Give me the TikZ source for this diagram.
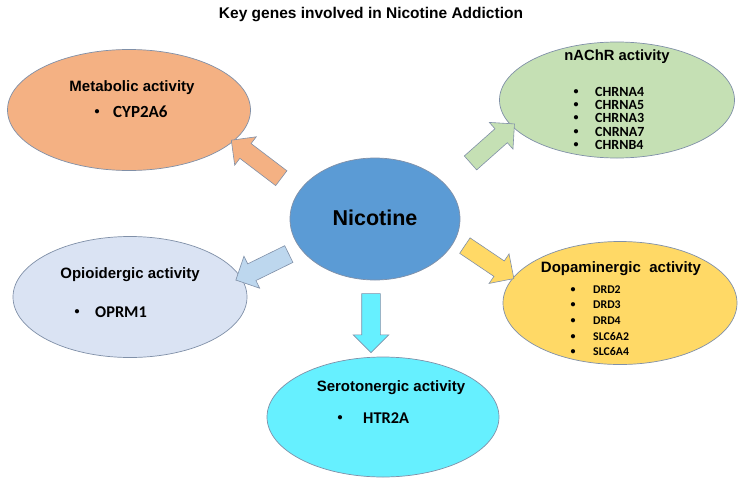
\documentclass[tikz,border=0pt]{standalone}
\usepackage{fontspec}
\setmainfont{Liberation Sans}
\newfontfamily\genefont{Carlito}
\usetikzlibrary{shapes.geometric,shapes.arrows,calc}
\definecolor{metab}{HTML}{F4B183}
\definecolor{nachr}{HTML}{C5E0B4}
\definecolor{nico}{HTML}{5B9BD5}
\definecolor{opio}{HTML}{DAE3F3}
\definecolor{opioarrow}{HTML}{BDD7EE}
\definecolor{dopa}{HTML}{FFD966}
\definecolor{sero}{HTML}{66F0FF}
\definecolor{edgec}{HTML}{8090A8}
\begin{document}
\begin{tikzpicture}[x=1pt,y=-1pt,
  bubble/.style={ellipse,draw=edgec,line width=0.7pt,inner sep=0pt},
  heading/.style={inner sep=0pt,font=\fontsize{15}{18}\selectfont\bfseries},
  genetext/.style={anchor=west,inner sep=0pt},
  bulletmark/.style={inner sep=0pt,font=\genefont\bfseries\fontsize{10}{12}\selectfont},
  blockarrow/.style={single arrow,draw=edgec,line width=0.6pt,inner xsep=0pt,inner ysep=9pt,single arrow head extend=8.5pt}]
\fill[white] (0,0) rectangle (750,485);
\useasboundingbox (0,0) rectangle (750,485);

% title
\node[inner sep=0pt,font=\fontsize{15.5}{18}\selectfont\bfseries] (title) at (371,15) {Key genes involved in Nicotine Addiction};

% ellipses
\node[bubble,fill=metab,minimum width=243pt,minimum height=121pt] (metab) at (129,110) {};
\node[bubble,fill=nachr,minimum width=235pt,minimum height=116pt] (nachr) at (617,100) {};
\node[bubble,fill=nico,minimum width=170pt,minimum height=122pt] (nico) at (375,219) {};
\node[bubble,fill=opio,minimum width=234pt,minimum height=121pt] (opio) at (130,297) {};
\node[bubble,fill=dopa,minimum width=234pt,minimum height=123pt] (dopa) at (620,303) {};
\node[bubble,fill=sero,minimum width=232pt,minimum height=120pt] (sero) at (383,417) {};

% arrow end points
\coordinate (s1) at (285,181); \coordinate (t1) at (235,143);
\coordinate (s2) at (467,166); \coordinate (t2) at (511,127);
\coordinate (s3) at (461,243); \coordinate (t3) at (510,276);
\coordinate (s4) at (293,252); \coordinate (t4) at (240,278);
\coordinate (s5) at (371,289); \coordinate (t5) at (371,348);

\path let \p1=($(t1)-(s1)$) in node[blockarrow,fill=metab,minimum height={veclen(\x1,\y1)},rotate={atan2(\y1,\x1)}] (a1) at ($(s1)!0.5!(t1)$) {};
\path let \p1=($(t2)-(s2)$) in node[blockarrow,fill=nachr,minimum height={veclen(\x1,\y1)},rotate={atan2(\y1,\x1)}] (a2) at ($(s2)!0.5!(t2)$) {};
\path let \p1=($(t3)-(s3)$) in node[blockarrow,fill=dopa,minimum height={veclen(\x1,\y1)},rotate={atan2(\y1,\x1)}] (a3) at ($(s3)!0.5!(t3)$) {};
\path let \p1=($(t4)-(s4)$) in node[blockarrow,fill=opioarrow,minimum height={veclen(\x1,\y1)},rotate={atan2(\y1,\x1)}] (a4) at ($(s4)!0.5!(t4)$) {};
\path let \p1=($(t5)-(s5)$) in node[blockarrow,fill=sero,minimum height={veclen(\x1,\y1)},rotate={atan2(\y1,\x1)}] (a5) at ($(s5)!0.5!(t5)$) {};

% centre label
\node[inner sep=0pt,font=\fontsize{21.5}{24}\selectfont\bfseries] (nicotxt) at (375,218) {Nicotine};

% headings
\node[heading] (h1) at (132,88) {Metabolic activity};
\node[heading,font=\fontsize{14.8}{18}\selectfont\bfseries] (h2) at (617,57) {nAChR activity};
\node[heading] (h3) at (621,269) {Dopaminergic\ \ activity};
\node[heading] (h4) at (130,275) {Opioidergic activity};
\node[heading] (h5) at (391,388) {Serotonergic activity};

% Metabolic genes
\node[bulletmark] (m0) at (97,112) {\textbullet};
\node[genetext,font=\genefont\bfseries\fontsize{17}{20}\selectfont] (m1) at (113,112) {CYP2A6};

% nAChR genes
\foreach \g/\yy [count=\i] in {CHRNA4/92,CHRNA5/105,CHRNA3/118,CNRNA7/132,CHRNB4/145}{
  \node[bulletmark] (nb\i) at (576,\yy) {\textbullet};
  \node[genetext,font=\genefont\bfseries\fontsize{14}{16}\selectfont] (ng\i) at (595,\yy) {\g};
}

% Dopaminergic genes
\foreach \g/\yy [count=\i] in {DRD2/290,DRD3/305,DRD4/321,SLC6A2/337,SLC6A4/352}{
  \node[bulletmark] (db\i) at (573,\yy) {\textbullet};
  \node[genetext,font=\genefont\bfseries\fontsize{11.8}{14}\selectfont] (dg\i) at (593,\yy) {\g};
}

% Opioidergic genes
\node[bulletmark] (o0) at (77,312) {\textbullet};
\node[genetext,font=\genefont\bfseries\fontsize{16.4}{20}\selectfont] (o1) at (95,312) {OPRM1};

% Serotonergic genes
\node[bulletmark] (s0) at (340,418) {\textbullet};
\node[genetext,font=\genefont\bfseries\fontsize{16.4}{20}\selectfont] (sg1) at (363,418) {HTR2A};
\end{tikzpicture}
\end{document}
